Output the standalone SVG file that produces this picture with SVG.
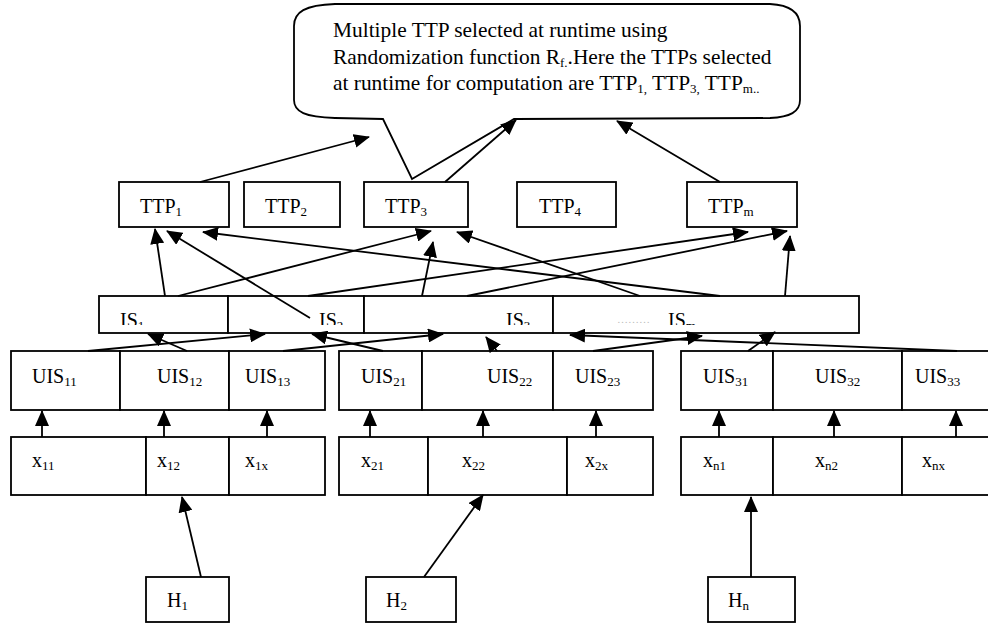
<svg xmlns="http://www.w3.org/2000/svg" width="988" height="625" viewBox="0 0 988 625" font-family="Liberation Serif, serif">
<style>
  .box { fill: #fff; stroke: #000; stroke-width: 1.8; }
  .t { font-family: Liberation Serif, serif; font-size: 20px; fill: #000; }
  .ct { font-family: Liberation Serif, serif; font-size: 21.4px; fill: #000; }
  .sub { font-size: 13px; }
  .c line { stroke: #000; stroke-width: 1.8; fill: none; marker-end: url(#ah); }
</style>
<defs>
  <marker id="ah" markerUnits="userSpaceOnUse" markerWidth="16" markerHeight="14" viewBox="0 0 16 14" refX="15" refY="7" orient="auto">
    <path d="M0,0 L16,7 L0,14 z" fill="#000"/>
  </marker>
  <clipPath id="isclip"><rect x="99" y="296" width="760" height="29"/></clipPath>
</defs>
<rect width="988" height="625" fill="#fff"/>

<g id="callout">
  <path class="box" d="M514,119 L770,118 C790,117 800,112 800,100 L800,26 C800,12 790,5 770,4 L335,4 C305,5 294,12 294,26 L294,100 C294,112 305,117 335,118 L383,119 L412,179 Z"/>
  <text class="ct" x="333" y="37">Multiple TTP selected at runtime using</text>
  <text class="ct" x="333" y="64">Randomization function R<tspan class="sub" dy="3">f.</tspan><tspan dy="-3">.Here the TTPs selected</tspan></text>
  <text class="ct" x="333" y="90">at runtime for computation are TTP<tspan class="sub" dy="3">1,</tspan><tspan dy="-3"> TTP</tspan><tspan class="sub" dy="3">3,</tspan><tspan dy="-3"> TTP</tspan><tspan class="sub" dy="3">m..</tspan></text>
</g>

<g id="ttp1"><rect class="box" x="119" y="182" width="110" height="45"/><text class="t" x="140" y="213">TTP<tspan class="sub" dy="3">1</tspan></text></g>
<g id="ttp2"><rect class="box" x="244" y="182" width="96" height="45"/><text class="t" x="265" y="213">TTP<tspan class="sub" dy="3">2</tspan></text></g>
<g id="ttp3"><rect class="box" x="364" y="182" width="104" height="45"/><text class="t" x="385" y="213">TTP<tspan class="sub" dy="3">3</tspan></text></g>
<g id="ttp4"><rect class="box" x="517" y="182" width="99" height="45"/><text class="t" x="539" y="213">TTP<tspan class="sub" dy="3">4</tspan></text></g>
<g id="ttpm"><rect class="box" x="687" y="182" width="110" height="45"/><text class="t" x="708" y="213">TTP<tspan class="sub" dy="3">m</tspan></text></g>

<g id="is1"><rect class="box" x="99" y="296" width="129" height="37"/><text class="t" x="120" y="327" clip-path="url(#isclip)">IS<tspan class="sub" dy="3">1</tspan></text></g>
<g id="is2"><rect class="box" x="228" y="296" width="136" height="37"/><text class="t" x="319" y="327" clip-path="url(#isclip)">IS<tspan class="sub" dy="3">2</tspan></text></g>
<g id="is3"><rect class="box" x="364" y="296" width="189" height="37"/><text class="t" x="506" y="327" clip-path="url(#isclip)">IS<tspan class="sub" dy="3">3</tspan></text></g>
<g id="ism"><rect class="box" x="553" y="296" width="306" height="37"/><text x="617" y="323" font-size="11" fill="#bbb">………</text><text class="t" x="668" y="327" clip-path="url(#isclip)">IS<tspan class="sub" dy="3">m</tspan></text></g>

<g id="uis11"><rect class="box" x="11" y="351" width="109" height="59"/><text class="t" x="32" y="383">UIS<tspan class="sub" dy="3">11</tspan></text></g>
<g id="uis12"><rect class="box" x="120" y="351" width="109" height="59"/><text class="t" x="157" y="383">UIS<tspan class="sub" dy="3">12</tspan></text></g>
<g id="uis13"><rect class="box" x="229" y="351" width="96" height="59"/><text class="t" x="245" y="383">UIS<tspan class="sub" dy="3">13</tspan></text></g>
<g id="uis21"><rect class="box" x="339" y="351" width="83" height="59"/><text class="t" x="361" y="383">UIS<tspan class="sub" dy="3">21</tspan></text></g>
<g id="uis22"><rect class="box" x="422" y="351" width="131" height="59"/><text class="t" x="487" y="383">UIS<tspan class="sub" dy="3">22</tspan></text></g>
<g id="uis23"><rect class="box" x="553" y="351" width="100" height="59"/><text class="t" x="575" y="383">UIS<tspan class="sub" dy="3">23</tspan></text></g>
<g id="uis31"><rect class="box" x="681" y="351" width="92" height="59"/><text class="t" x="703" y="383">UIS<tspan class="sub" dy="3">31</tspan></text></g>
<g id="uis32"><rect class="box" x="773" y="351" width="129" height="59"/><text class="t" x="815" y="383">UIS<tspan class="sub" dy="3">32</tspan></text></g>
<g id="uis33"><rect class="box" x="902" y="351" width="90" height="59"/><text class="t" x="915" y="383">UIS<tspan class="sub" dy="3">33</tspan></text></g>

<g id="x11"><rect class="box" x="11" y="437" width="135" height="58"/><text class="t" x="32" y="467">x<tspan class="sub" dy="3">11</tspan></text></g>
<g id="x12"><rect class="box" x="146" y="437" width="83" height="58"/><text class="t" x="157" y="467">x<tspan class="sub" dy="3">12</tspan></text></g>
<g id="x1x"><rect class="box" x="229" y="437" width="96" height="58"/><text class="t" x="245" y="467">x<tspan class="sub" dy="3">1x</tspan></text></g>
<g id="x21"><rect class="box" x="339" y="437" width="89" height="58"/><text class="t" x="361" y="467">x<tspan class="sub" dy="3">21</tspan></text></g>
<g id="x22"><rect class="box" x="428" y="437" width="139" height="58"/><text class="t" x="462" y="467">x<tspan class="sub" dy="3">22</tspan></text></g>
<g id="x2x"><rect class="box" x="567" y="437" width="86" height="58"/><text class="t" x="585" y="467">x<tspan class="sub" dy="3">2x</tspan></text></g>
<g id="xn1"><rect class="box" x="681" y="437" width="92" height="58"/><text class="t" x="703" y="467">x<tspan class="sub" dy="3">n1</tspan></text></g>
<g id="xn2"><rect class="box" x="773" y="437" width="129" height="58"/><text class="t" x="815" y="467">x<tspan class="sub" dy="3">n2</tspan></text></g>
<g id="xnx"><rect class="box" x="902" y="437" width="90" height="58"/><text class="t" x="922" y="467">x<tspan class="sub" dy="3">nx</tspan></text></g>

<g id="h1"><rect class="box" x="146" y="577" width="83" height="45"/><text class="t" x="167" y="607">H<tspan class="sub" dy="3">1</tspan></text></g>
<g id="h2"><rect class="box" x="366" y="577" width="90" height="45"/><text class="t" x="386" y="607">H<tspan class="sub" dy="3">2</tspan></text></g>
<g id="hn"><rect class="box" x="708" y="577" width="87" height="45"/><text class="t" x="728" y="607">H<tspan class="sub" dy="3">n</tspan></text></g>

<g id="connectors" class="c">
  <line x1="200" y1="182" x2="369" y2="137"/>
  <line x1="445" y1="182" x2="516" y2="120"/>
  <line x1="720" y1="182" x2="617" y2="121"/>

  <line x1="165" y1="296" x2="155" y2="229"/>
  <line x1="310" y1="318" x2="167" y2="231"/>
  <line x1="720" y1="296" x2="203" y2="232"/>
  <line x1="178" y1="296" x2="431" y2="231"/>
  <line x1="422" y1="296" x2="433" y2="242"/>
  <line x1="640" y1="296" x2="457" y2="232"/>
  <line x1="308" y1="296" x2="748" y2="232"/>
  <line x1="467" y1="296" x2="787" y2="231"/>
  <line x1="785" y1="296" x2="790" y2="236"/>

  <line x1="88" y1="351" x2="265" y2="334"/>
  <line x1="187" y1="351" x2="148" y2="334"/>
  <line x1="283" y1="351" x2="443" y2="334"/>
  <line x1="383" y1="351" x2="312" y2="334"/>
  <line x1="497" y1="351" x2="486" y2="337"/>
  <line x1="593" y1="351" x2="702" y2="336"/>
  <line x1="957" y1="351" x2="570" y2="335"/>
  <line x1="748" y1="351" x2="775" y2="332"/>

  <line x1="42" y1="437" x2="42" y2="411"/>
  <line x1="164" y1="437" x2="164" y2="411"/>
  <line x1="267" y1="437" x2="267" y2="411"/>
  <line x1="370" y1="437" x2="370" y2="411"/>
  <line x1="483" y1="437" x2="483" y2="411"/>
  <line x1="596" y1="437" x2="596" y2="411"/>
  <line x1="719" y1="437" x2="719" y2="411"/>
  <line x1="834" y1="437" x2="834" y2="411"/>
  <line x1="956" y1="437" x2="956" y2="411"/>

  <line x1="201" y1="577" x2="182" y2="497"/>
  <line x1="424" y1="577" x2="483" y2="495"/>
  <line x1="751" y1="577" x2="751" y2="497"/>
</g>
</svg>
